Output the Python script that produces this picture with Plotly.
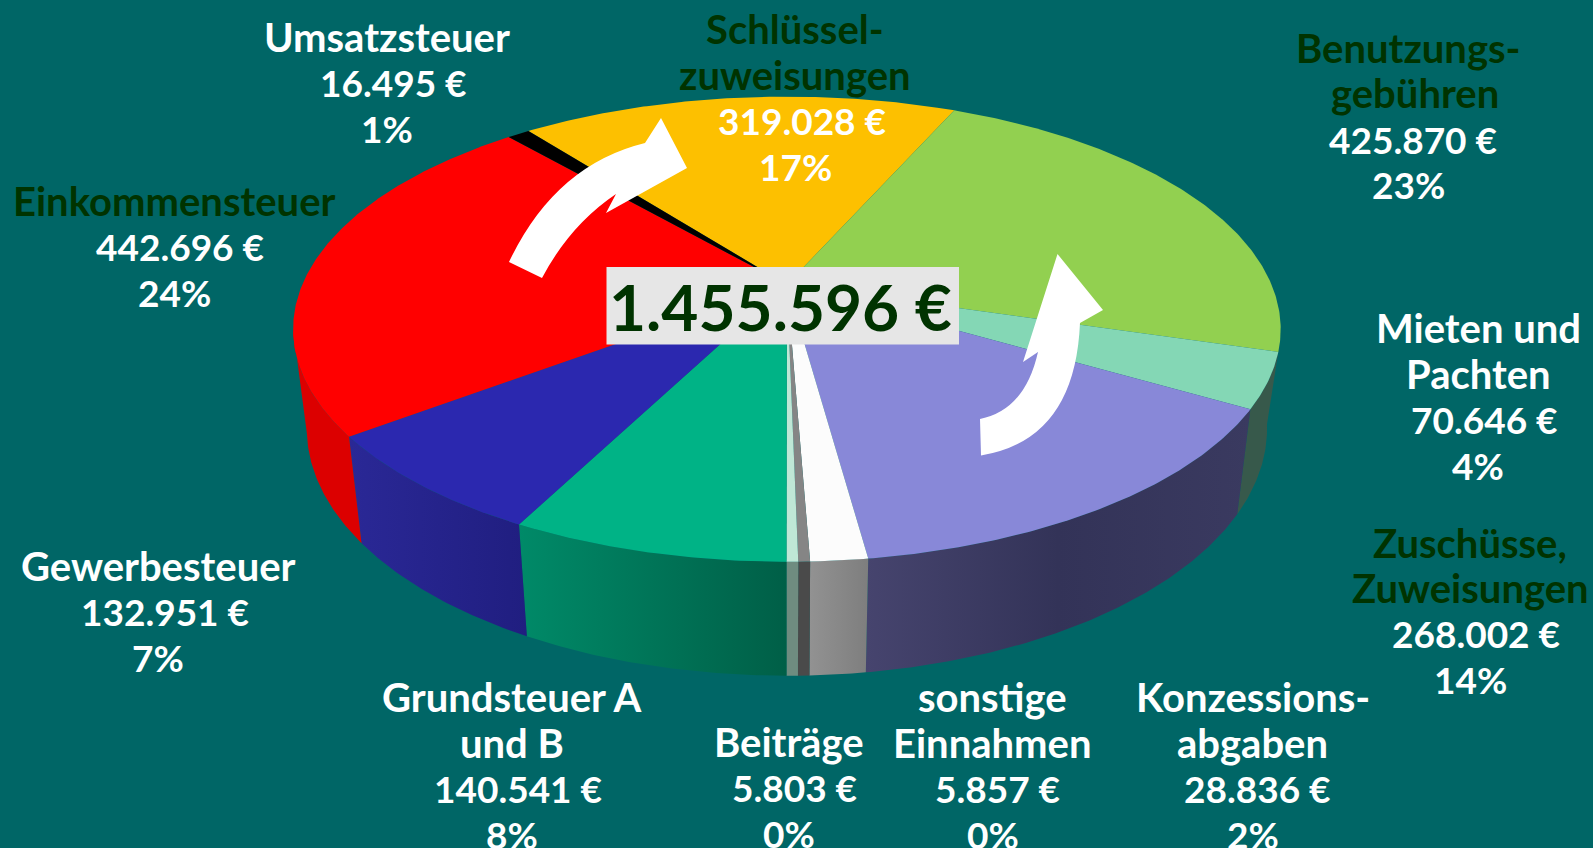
import math
import plotly.graph_objects as go

# ---- data (clockwise from the gold slice) ----
names = ["Schlüsselzuweisungen", "Benutzungsgebühren", "Mieten und Pachten", "Zuschüsse, Zuweisungen",
         "Konzessionsabgaben", "sonstige Einnahmen", "Beiträge", "Grundsteuer A und B",
         "Gewerbesteuer", "Einkommensteuer", "Umsatzsteuer"]
values = [319028, 425870, 70646, 268002, 28836, 5857, 5803, 140541, 132951, 442696, 16495]
total_text = "1.455.596 €"

# label lines per slice
label_lines = [["Schlüssel-", "zuweisungen"], ["Benutzungs-", "gebühren"], ["Mieten und", "Pachten"],
               ["Zuschüsse,", "Zuweisungen"], ["Konzessions-", "abgaben"], ["sonstige", "Einnahmen"],
               ["Beiträge"], ["Grundsteuer A", "und B"], ["Gewerbesteuer"], ["Einkommensteuer"], ["Umsatzsteuer"]]

# ---- styles ----
BG = "#006666"
DARK = "#003300"
top_colors = ["#FDC000", "#92D050", "#84D7B5", "#8888D8", "#FCFCFC", "#858585", "#BFE7D6",
              "#00B386", "#2B28AF", "#FF0000", "#000000"]
wall_colors = [None, None, ["#37594b", "#37594b"], ["#46446e", "#333358", "#3a3a60"], ["#929292", "#7e7e7e"],
               ["#4a4a4a", "#4a4a4a"], ["#6f8c80", "#6f8c80"], ["#008a68", "#005f47"],
               ["#2a2896", "#201e80"], ["#dc0000", "#dc0000"], None]
name_dark = [True, True, False, True, False, False, False, False, False, True, False]

# label placement: centre x of name / value lines, y of first line, in page pixels
S = 1593 / 1568
label_pos = [(783, 789, 29), (1386, 1391, 47), (1455, 1461, 323), (1447, 1453, 534), (1233, 1238, 686),
             (977, 982, 686), (777, 782, 730), (504, 510, 686), (156, 162, 557), (172, 177, 198), (381, 387, 36)]
line_shift = {"gebühren": 7}
LINE = 45.0
NAME_SIZE = 40
VALUE_SIZE = 37

# ---- perspective projection of the tilted disc ----
CX = 786.9
START = -37.9
TOP = dict(y=284.5, a=484.6, b=224.0, k=0.192)
BOT = dict(y=381.5, a=471.4, b=238.3, k=0.19)


def project(theta, p):
    t = math.radians(theta)
    u, v = math.sin(t), math.cos(t)
    d = 1 + p["k"] * v
    return CX + p["a"] * u / d, p["y"] - p["b"] * v / d


def arc(t0, t1, p):
    n = max(2, int(abs(t1 - t0) * 2) + 2)
    pts = [project(t0 + (t1 - t0) * i / (n - 1), p) for i in range(n)]
    return [q[0] for q in pts], [q[1] for q in pts]


total = sum(values)
edges = [START]
for val in values:
    edges.append(edges[-1] + val / total * 360)

fig = go.Figure()
BOT_FROM, BOT_TO, TOP_TO = 100, 258, 259
first_wall = next(i for i, c in enumerate(wall_colors) if c)
for i, val in enumerate(values):
    if wall_colors[i] is None:
        continue
    xt, yt = arc(edges[i], min(edges[i + 1], TOP_TO), TOP)
    b0 = BOT_FROM if i == first_wall else edges[i]
    xb, yb = arc(min(edges[i + 1], BOT_TO), b0, BOT)
    cols = wall_colors[i]
    scale = [[j / (len(cols) - 1), c] for j, c in enumerate(cols)]
    fig.add_trace(go.Scatter(x=xt + xb + [xt[0]], y=yt + yb + [yt[0]], mode="lines", fill="toself",
                             line=dict(width=0), fillgradient=dict(type="horizontal", colorscale=scale),
                             hoverinfo="skip", showlegend=False))

for i, val in enumerate(values):
    xa, ya = arc(edges[i], edges[i + 1], TOP)
    fig.add_trace(go.Scatter(x=[CX] + xa + [CX], y=[TOP["y"]] + ya + [TOP["y"]], mode="lines", fill="toself",
                             fillcolor=top_colors[i], line=dict(width=0), name=names[i],
                             text=f"{names[i]}: {val:,} €".replace(",", "."), hoverinfo="text",
                             showlegend=False))


def euro(v):
    return f"{v:,}".replace(",", ".") + " €"


FONT = "Lato"
anns = []


def put(x, y, s, col, size):
    anns.append(dict(x=x * S, y=y * S, text=f"<b>{s}</b>", showarrow=False, xref="x", yref="y",
                     xanchor="center", yanchor="middle", font=dict(family=FONT, size=size, color=col)))


for i, val in enumerate(values):
    nx, vx, y0 = label_pos[i]
    col = DARK if name_dark[i] else "white"
    y = y0
    for ln in label_lines[i]:
        put(nx + line_shift.get(ln, 0), y, ln, col, NAME_SIZE)
        y += LINE
    put(vx, y, euro(val), "white", VALUE_SIZE)
    put(nx, y + LINE, f"{round(val / total * 100)}%", "white", VALUE_SIZE)

anns.append(dict(x=780, y=306, text=f"<b>{total_text}</b>", showarrow=False, xref="x", yref="y",
                 font=dict(family=FONT, size=64, color=DARK)))

shapes = [
    dict(type="path", xref="x", yref="y", fillcolor="white", line=dict(width=0), layer="above",
         path="M 509 262 Q 555 165 645 143 L 661 118 L 687 168 L 606 213 L 616 194 Q 570 225 542 278 Z"),
    dict(type="path", xref="x", yref="y", fillcolor="white", line=dict(width=0), layer="above",
         path="M 980 419 Q 1025 410 1038 352 L 1023 362 L 1057.5 254 L 1103 310 L 1080 323 Q 1075 440 981 455.5 Z"),
    dict(type="rect", xref="x", yref="y", x0=606.5, x1=959, y0=267, y1=344.5, fillcolor="#E6E6E6",
         line=dict(width=0), layer="above"),
]

fig.update_layout(width=1593, height=848, margin=dict(l=0, r=0, t=0, b=0), paper_bgcolor=BG, plot_bgcolor=BG,
                  xaxis=dict(range=[0, 1593], visible=False, fixedrange=True),
                  yaxis=dict(range=[848, 0], visible=False, fixedrange=True),
                  shapes=shapes, annotations=anns, showlegend=False)
fig.write_html("out.html", config=dict(displayModeBar=False),
               post_script="document.body.style.margin='0';document.body.style.background='#006666';")
